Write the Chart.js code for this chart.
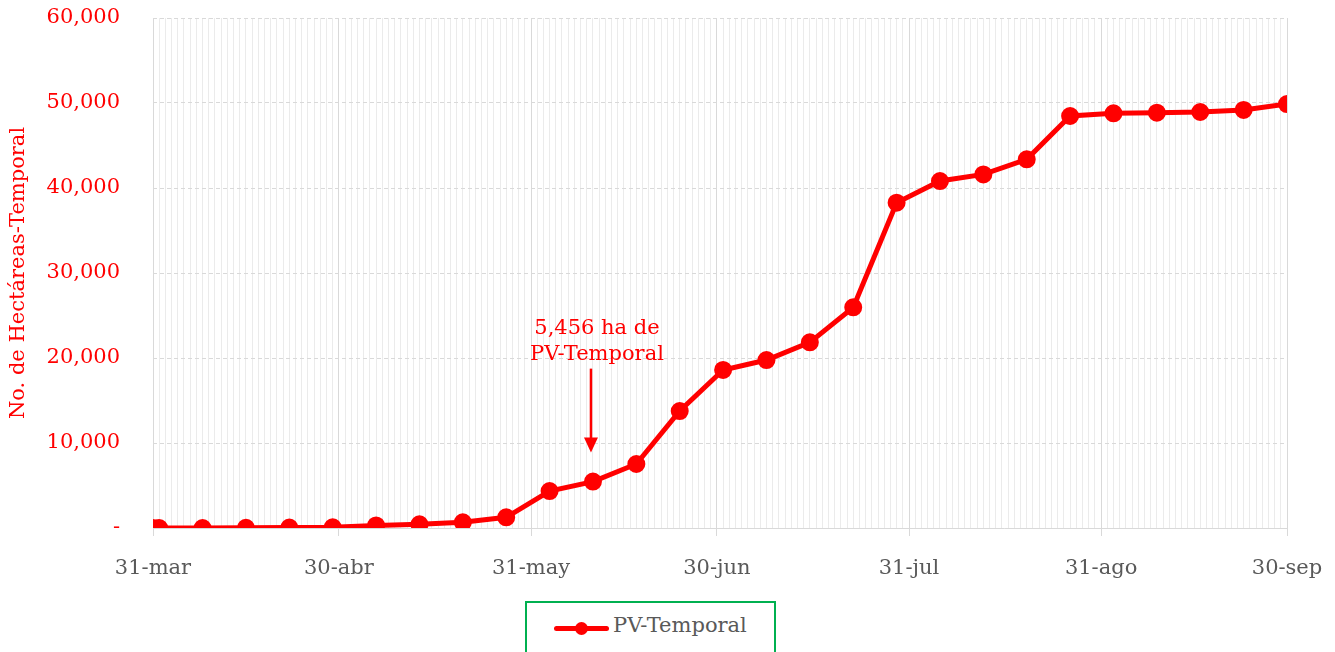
<!DOCTYPE html>
<html>
<head>
<meta charset="utf-8">
<script src="https://cdn.jsdelivr.net/npm/chart.js@4/dist/chart.umd.min.js"></script>
<style>
    body { margin: 0; background: #fff; width: 1335px; height: 652px; overflow: hidden; position: relative; font-family: "DejaVu Serif", serif; }
    #wrap { position: absolute; left: 0; top: 0; width: 1335px; height: 600px; }
    #leyenda { position: absolute; left: 525px; top: 601px; width: 251px; height: 60px; border: 2px solid #00b050; box-sizing: border-box; }
    #leyenda .linea { position: absolute; left: 27px; top: 23px; width: 55px; height: 5px; background: #ff0000; border-radius: 3px; }
    #leyenda .punto { position: absolute; left: 21px; top: -4px; width: 13px; height: 13px; background: #ff0000; border-radius: 50%; }
    #leyenda .texto { position: absolute; left: 86px; top: 10px; font-size: 21px; color: #595959; }
</style>
</head>
<body>
<div id="wrap"><canvas id="grafica" width="1335" height="600"></canvas></div>
<div id="leyenda"><span class="linea"><span class="punto"></span></span><span class="texto">PV-Temporal</span></div>
<script>
// Fechas de corte y hectáreas acumuladas
const fechas = ['31-mar', '01-abr', '08-abr', '15-abr', '22-abr', '29-abr', '06-may', '13-may', '20-may', '27-may',
    '03-jun', '10-jun', '17-jun', '24-jun', '01-jul', '08-jul', '15-jul', '22-jul', '29-jul',
    '05-ago', '12-ago', '19-ago', '26-ago', '02-sep', '09-sep', '16-sep', '23-sep', '30-sep'];
const hectareas = [0, 0, 0, 20, 50, 80, 300, 430, 670, 1260,
    4350, 5456, 7530, 13760, 18590, 19760, 21840, 25960, 38270,
    40820, 41600, 43370, 48470, 48790, 48860, 48940, 49180, 49880];
const etiquetasMes = ['31-mar', '30-abr', '31-may', '30-jun', '31-jul', '31-ago', '30-sep'];
const nota = ['5,456 ha de', 'PV-Temporal'];
const notaIndice = 11;

const meses = { mar: 2, abr: 3, may: 4, jun: 5, jul: 6, ago: 7, sep: 8 };
const inicio = Date.UTC(2023, 2, 31);
const aDia = (f) => {
    const [d, m] = f.split('-');
    return Math.round((Date.UTC(2023, meses[m], +d) - inicio) / 86400000);
};
const dias = fechas.map(aDia);
const diasMes = etiquetasMes.map(aDia);
const ultimoDia = diasMes[diasMes.length - 1];

const fuente = { family: '"DejaVu Serif", serif', size: 21 };

// Texto y flecha sobre el punto anotado
const anotacion = {
    id: 'anotacion',
    afterDatasetsDraw(chart) {
        const p = chart.getDatasetMeta(0).data[notaIndice];
        const ctx = chart.ctx;
        ctx.save();
        ctx.fillStyle = '#ff0000';
        ctx.strokeStyle = '#ff0000';
        ctx.font = '21px "DejaVu Serif", serif';
        ctx.textAlign = 'center';
        ctx.textBaseline = 'middle';
        ctx.fillText(nota[0], p.x + 4, p.y - 153);
        ctx.fillText(nota[1], p.x + 4, p.y - 127);
        ctx.lineWidth = 2.5;
        ctx.beginPath();
        ctx.moveTo(p.x - 2, p.y - 113);
        ctx.lineTo(p.x - 2, p.y - 40);
        ctx.stroke();
        ctx.beginPath();
        ctx.moveTo(p.x - 9, p.y - 44);
        ctx.lineTo(p.x + 5, p.y - 44);
        ctx.lineTo(p.x - 2, p.y - 29);
        ctx.closePath();
        ctx.fill();
        ctx.restore();
    }
};

new Chart(document.getElementById('grafica'), {
    type: 'line',
    data: {
        datasets: [{
            label: 'PV-Temporal',
            data: dias.map((d, i) => ({ x: d, y: hectareas[i] })),
            borderColor: '#ff0000',
            backgroundColor: '#ff0000',
            borderWidth: 5,
            pointRadius: 6.5,
            pointHoverRadius: 6.5,
            tension: 0,
        }],
    },
    options: {
        responsive: false,
        animation: false,
        layout: { padding: { top: 18, right: 48, left: 0, bottom: 0 } },
        plugins: { legend: { display: false }, tooltip: { enabled: false } },
        scales: {
            x: {
                type: 'linear',
                min: 0,
                max: ultimoDia,
                afterBuildTicks: (s) => {
                    const t = [];
                    for (let d = 0; d <= ultimoDia; d++) t.push({ value: d });
                    s.ticks = t;
                },
                afterFit: (s) => {
                    s.height = 72;
                    s.paddingLeft = 0;
                    s.paddingRight = 0;
                },
                ticks: {
                    autoSkip: false,
                    maxRotation: 0,
                    color: '#595959',
                    font: fuente,
                    padding: 20,
                    callback: (v) => {
                        const k = diasMes.indexOf(v);
                        return k >= 0 ? etiquetasMes[k] : '';
                    },
                },
                grid: {
                    color: (c) => (c.tick && diasMes.includes(c.tick.value) ? '#d9d9d9' : '#ebebeb'),
                    tickColor: (c) => (c.tick && diasMes.includes(c.tick.value) ? '#d9d9d9' : 'rgba(0,0,0,0)'),
                    tickLength: 8,
                },
                border: { color: '#d9d9d9' },
            },
            y: {
                min: 0,
                max: 60000,
                afterFit: (s) => { s.width = 153; },
                ticks: {
                    stepSize: 10000,
                    color: '#ff0000',
                    font: fuente,
                    padding: 3,
                    callback: (v) => (v === 0 ? '-' : v.toLocaleString('en-US')),
                },
                grid: { color: '#d9d9d9', tickColor: 'rgba(0,0,0,0)', tickLength: 30 },
                border: { display: false, dash: [4, 3] },
                title: {
                    display: true,
                    text: 'No. de Hectáreas-Temporal',
                    color: '#ff0000',
                    font: fuente,
                    padding: { top: 6, bottom: 0 },
                },
            },
        },
    },
    plugins: [anotacion],
});
</script>
</body>
</html>
